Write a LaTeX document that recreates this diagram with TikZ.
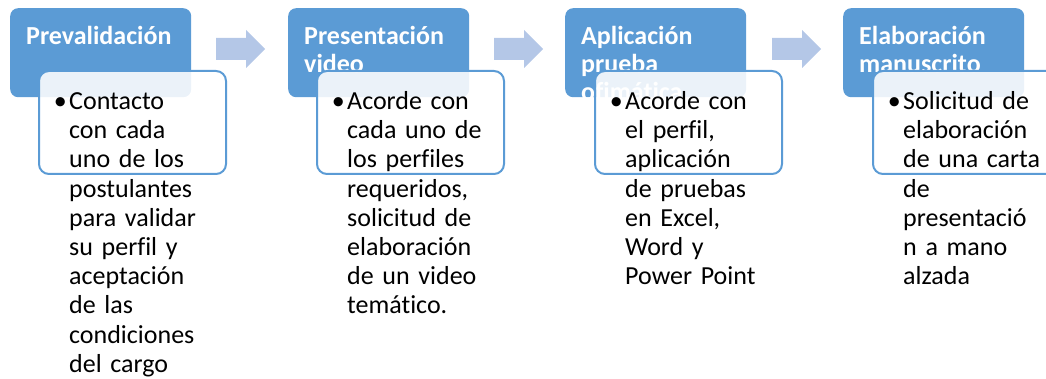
\documentclass[tikz,border=0pt]{standalone}
\usepackage{fontspec}
\setmainfont{Carlito}[Ligatures=NoCommon]
\definecolor{accent}{HTML}{5B9BD5}
\definecolor{arrowc}{HTML}{B4C7E7}
\begin{document}
\begin{tikzpicture}[x=1pt,y=-1pt,
  stage/.style={fill=accent, rounded corners=8pt, minimum width=181pt, minimum height=89pt, inner sep=0pt, anchor=north west},
  stitle/.style={text=white, font=\fontsize{26}{28}\selectfont\bfseries, anchor=base west, inner sep=0pt, text width=175pt, align=left},
  detail/.style={draw=accent, line width=2pt, fill=white, fill opacity=0.88, rounded corners=10pt, minimum width=187pt, minimum height=103pt, inner sep=0pt, anchor=north west},
  body/.style={text=black, font=\fontsize{26}{29.2}\selectfont, anchor=base west, inner sep=0pt, text width=170pt, align=left},
  flow/.style={fill=arrowc}]
\useasboundingbox (0,0) rectangle (1046,379);
\clip (0,0) rectangle (1046,379);
% stage boxes
\node[stage] (s1) at (10,8) {};
\node[stage] (s2) at (288,8) {};
\node[stage] (s3) at (565,8) {};
\node[stage] (s4) at (843,8) {};
\node[stitle] (t1) at (26,45) {Prevalidación};
\node[stitle] (t2) at (304,45) {Presentación\\video};
\node[stitle] (t3) at (581,45) {Aplicación\\prueba\\ofimática};
\node[stitle] (t4) at (859,45) {Elaboración\\manuscrito};
% detail boxes
\node[detail] (d1) at (38,70) {};
\node[detail] (d2) at (316,70) {};
\node[detail] (d3) at (594,70) {};
\node[detail] (d4) at (872,70) {};
\node[body] (b1) at (69,109.6) {\llap{\textbullet\hspace{2.5pt}}Contacto\\con cada\\uno de los\\postulantes\\para validar\\su perfil y\\aceptación\\de las\\condiciones\\del cargo};
\node[body] (b2) at (347,109.6) {\llap{\textbullet\hspace{2.5pt}}Acorde con\\cada uno de\\los perfiles\\requeridos,\\solicitud de\\elaboración\\de un video\\temático.};
\node[body] (b3) at (625,109.6) {\llap{\textbullet\hspace{2.5pt}}Acorde con\\el perfil,\\aplicación\\de pruebas\\en Excel,\\Word y\\Power Point};
\node[body] (b4) at (903,109.6) {\llap{\textbullet\hspace{2.5pt}}Solicitud de\\elaboración\\de una carta\\de\\presentació\\n a mano\\alzada};
% arrows
\foreach \k in {0,1,2}{
  \fill[flow] ({216+278*\k},38) -- ({246+278*\k},38) -- ({246+278*\k},30) -- ({265+278*\k},49)
    -- ({246+278*\k},68) -- ({246+278*\k},60) -- ({216+278*\k},60) -- cycle;
}
\end{tikzpicture}
\end{document}
